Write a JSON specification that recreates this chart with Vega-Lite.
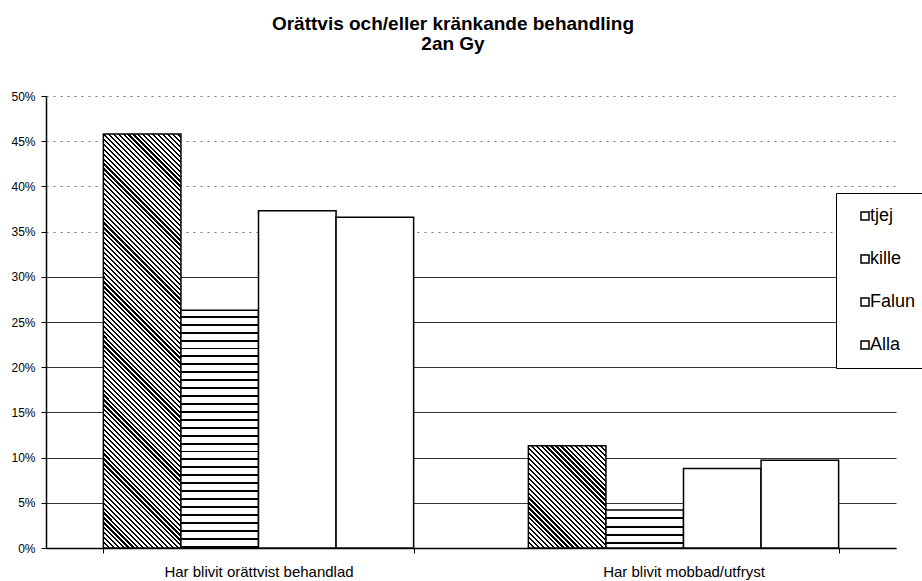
{
"$schema": "https://vega.github.io/schema/vega-lite/v6.json",
"width": 850,
"height": 452,
"autosize": "none",
"padding": {"left": 46, "top": 96, "right": 26, "bottom": 33},
"background": "white",
"title": {"text": ["Orättvis och/eller kränkande behandling", "2an Gy"], "font": "Liberation Sans", "fontSize": 19, "fontWeight": "bold", "color": "black", "lineHeight": 20, "anchor": "middle", "frame": "group", "dx": -18, "offset": 36},
"data": {"values": [
{"grupp": "Har blivit orättvist behandlad", "kon": "tjej", "andel": 0.458},
{"grupp": "Har blivit orättvist behandlad", "kon": "kille", "andel": 0.263},
{"grupp": "Har blivit orättvist behandlad", "kon": "Falun", "andel": 0.373},
{"grupp": "Har blivit orättvist behandlad", "kon": "Alla", "andel": 0.366},
{"grupp": "Har blivit mobbad/utfryst", "kon": "tjej", "andel": 0.113},
{"grupp": "Har blivit mobbad/utfryst", "kon": "kille", "andel": 0.042},
{"grupp": "Har blivit mobbad/utfryst", "kon": "Falun", "andel": 0.088},
{"grupp": "Har blivit mobbad/utfryst", "kon": "Alla", "andel": 0.097}
]},
"mark": {"type": "bar", "stroke": "black", "strokeWidth": 1.5},
"encoding": {
"x": {"field": "grupp", "type": "nominal", "sort": ["Har blivit orättvist behandlad", "Har blivit mobbad/utfryst"], "scale": {"paddingInner": 0.27, "paddingOuter": 0.135},
 "axis": {"title": null, "labelAngle": 0, "labelLimit": 0, "labelFont": "Liberation Sans", "labelFontSize": 15, "labelColor": "black", "labelBaseline": "alphabetic", "labelPadding": 23, "tickBand": "extent", "tickSize": 5, "tickColor": "black", "domainColor": "black", "domainWidth": 1.5, "grid": false}},
"xOffset": {"field": "kon", "type": "nominal", "sort": ["tjej", "kille", "Falun", "Alla"], "scale": {"paddingInner": 0, "paddingOuter": 0}},
"y": {"field": "andel", "type": "quantitative", "scale": {"domain": [0, 0.5], "nice": false},
 "axis": {"title": null, "values": [0, 0.05, 0.1, 0.15, 0.2, 0.25, 0.3, 0.35, 0.4, 0.45, 0.5], "format": ".0%", "labelFont": "Liberation Sans", "labelFontSize": 12, "labelColor": "black", "labelPadding": 6, "tickSize": 5, "tickColor": "black", "domainColor": "black", "domainWidth": 1.5, "grid": true, "gridWidth": 1,
  "gridColor": {"condition": {"test": "datum.value >= 0.33", "value": "#777777"}, "value": "#333333"},
  "gridDash": {"condition": {"test": "datum.value >= 0.33", "value": [2, 5]}, "value": []}}},
"fill": {"field": "kon", "type": "nominal", "scale": {"domain": ["tjej", "kille", "Falun", "Alla"], "range": ["white", "white", "white", "white"]},
 "legend": {"title": null, "orient": "none", "legendX": 790, "legendY": 97, "direction": "vertical", "padding": 14, "strokeColor": "black", "fillColor": "white", "symbolType": "square", "symbolSize": 64, "symbolStrokeWidth": 1.5, "symbolStrokeColor": "black", "symbolFillColor": "white", "labelFont": "Liberation Sans", "labelFontSize": 18, "labelColor": "black", "labelOffset": -4, "symbolOffset": 6, "rowPadding": 25},
 "condition": [
  {"test": "datum.grupp === 'Har blivit orättvist behandlad' && datum.kon === 'tjej'", "value": {"gradient": "linear", "x1": 0, "y1": 1, "x2": 0.215, "y2": -0.1472, "stops": [
{"offset":0,"color":"#000"},{"offset":0.0045,"color":"#000"},{"offset":0.0045,"color":"#fff"},{"offset":0.01,"color":"#fff"},
{"offset":0.01,"color":"#000"},{"offset":0.0145,"color":"#000"},{"offset":0.0145,"color":"#fff"},{"offset":0.02,"color":"#fff"},
{"offset":0.02,"color":"#000"},{"offset":0.0245,"color":"#000"},{"offset":0.0245,"color":"#fff"},{"offset":0.03,"color":"#fff"},
{"offset":0.03,"color":"#000"},{"offset":0.0345,"color":"#000"},{"offset":0.0345,"color":"#fff"},{"offset":0.04,"color":"#fff"},
{"offset":0.04,"color":"#000"},{"offset":0.0445,"color":"#000"},{"offset":0.0445,"color":"#fff"},{"offset":0.05,"color":"#fff"},
{"offset":0.05,"color":"#000"},{"offset":0.0545,"color":"#000"},{"offset":0.0545,"color":"#fff"},{"offset":0.06,"color":"#fff"},
{"offset":0.06,"color":"#000"},{"offset":0.0645,"color":"#000"},{"offset":0.0645,"color":"#fff"},{"offset":0.07,"color":"#fff"},
{"offset":0.07,"color":"#000"},{"offset":0.0745,"color":"#000"},{"offset":0.0745,"color":"#fff"},{"offset":0.08,"color":"#fff"},
{"offset":0.08,"color":"#000"},{"offset":0.0845,"color":"#000"},{"offset":0.0845,"color":"#fff"},{"offset":0.09,"color":"#fff"},
{"offset":0.09,"color":"#000"},{"offset":0.0945,"color":"#000"},{"offset":0.0945,"color":"#fff"},{"offset":0.1,"color":"#fff"},
{"offset":0.1,"color":"#000"},{"offset":0.1045,"color":"#000"},{"offset":0.1045,"color":"#fff"},{"offset":0.11,"color":"#fff"},
{"offset":0.11,"color":"#000"},{"offset":0.1145,"color":"#000"},{"offset":0.1145,"color":"#fff"},{"offset":0.12,"color":"#fff"},
{"offset":0.12,"color":"#000"},{"offset":0.1245,"color":"#000"},{"offset":0.1245,"color":"#fff"},{"offset":0.13,"color":"#fff"},
{"offset":0.13,"color":"#000"},{"offset":0.1345,"color":"#000"},{"offset":0.1345,"color":"#fff"},{"offset":0.14,"color":"#fff"},
{"offset":0.14,"color":"#000"},{"offset":0.1445,"color":"#000"},{"offset":0.1445,"color":"#fff"},{"offset":0.15,"color":"#fff"},
{"offset":0.15,"color":"#000"},{"offset":0.1545,"color":"#000"},{"offset":0.1545,"color":"#fff"},{"offset":0.16,"color":"#fff"},
{"offset":0.16,"color":"#000"},{"offset":0.1645,"color":"#000"},{"offset":0.1645,"color":"#fff"},{"offset":0.17,"color":"#fff"},
{"offset":0.17,"color":"#000"},{"offset":0.1745,"color":"#000"},{"offset":0.1745,"color":"#fff"},{"offset":0.18,"color":"#fff"},
{"offset":0.18,"color":"#000"},{"offset":0.1845,"color":"#000"},{"offset":0.1845,"color":"#fff"},{"offset":0.19,"color":"#fff"},
{"offset":0.19,"color":"#000"},{"offset":0.1945,"color":"#000"},{"offset":0.1945,"color":"#fff"},{"offset":0.2,"color":"#fff"},
{"offset":0.2,"color":"#000"},{"offset":0.2045,"color":"#000"},{"offset":0.2045,"color":"#fff"},{"offset":0.21,"color":"#fff"},
{"offset":0.21,"color":"#000"},{"offset":0.2145,"color":"#000"},{"offset":0.2145,"color":"#fff"},{"offset":0.22,"color":"#fff"},
{"offset":0.22,"color":"#000"},{"offset":0.2245,"color":"#000"},{"offset":0.2245,"color":"#fff"},{"offset":0.23,"color":"#fff"},
{"offset":0.23,"color":"#000"},{"offset":0.2345,"color":"#000"},{"offset":0.2345,"color":"#fff"},{"offset":0.24,"color":"#fff"},
{"offset":0.24,"color":"#000"},{"offset":0.2445,"color":"#000"},{"offset":0.2445,"color":"#fff"},{"offset":0.25,"color":"#fff"},
{"offset":0.25,"color":"#000"},{"offset":0.2545,"color":"#000"},{"offset":0.2545,"color":"#fff"},{"offset":0.26,"color":"#fff"},
{"offset":0.26,"color":"#000"},{"offset":0.2645,"color":"#000"},{"offset":0.2645,"color":"#fff"},{"offset":0.27,"color":"#fff"},
{"offset":0.27,"color":"#000"},{"offset":0.2745,"color":"#000"},{"offset":0.2745,"color":"#fff"},{"offset":0.28,"color":"#fff"},
{"offset":0.28,"color":"#000"},{"offset":0.2845,"color":"#000"},{"offset":0.2845,"color":"#fff"},{"offset":0.29,"color":"#fff"},
{"offset":0.29,"color":"#000"},{"offset":0.2945,"color":"#000"},{"offset":0.2945,"color":"#fff"},{"offset":0.3,"color":"#fff"},
{"offset":0.3,"color":"#000"},{"offset":0.3045,"color":"#000"},{"offset":0.3045,"color":"#fff"},{"offset":0.31,"color":"#fff"},
{"offset":0.31,"color":"#000"},{"offset":0.3145,"color":"#000"},{"offset":0.3145,"color":"#fff"},{"offset":0.32,"color":"#fff"},
{"offset":0.32,"color":"#000"},{"offset":0.3245,"color":"#000"},{"offset":0.3245,"color":"#fff"},{"offset":0.33,"color":"#fff"},
{"offset":0.33,"color":"#000"},{"offset":0.3345,"color":"#000"},{"offset":0.3345,"color":"#fff"},{"offset":0.34,"color":"#fff"},
{"offset":0.34,"color":"#000"},{"offset":0.3445,"color":"#000"},{"offset":0.3445,"color":"#fff"},{"offset":0.35,"color":"#fff"},
{"offset":0.35,"color":"#000"},{"offset":0.3545,"color":"#000"},{"offset":0.3545,"color":"#fff"},{"offset":0.36,"color":"#fff"},
{"offset":0.36,"color":"#000"},{"offset":0.3645,"color":"#000"},{"offset":0.3645,"color":"#fff"},{"offset":0.37,"color":"#fff"},
{"offset":0.37,"color":"#000"},{"offset":0.3745,"color":"#000"},{"offset":0.3745,"color":"#fff"},{"offset":0.38,"color":"#fff"},
{"offset":0.38,"color":"#000"},{"offset":0.3845,"color":"#000"},{"offset":0.3845,"color":"#fff"},{"offset":0.39,"color":"#fff"},
{"offset":0.39,"color":"#000"},{"offset":0.3945,"color":"#000"},{"offset":0.3945,"color":"#fff"},{"offset":0.4,"color":"#fff"},
{"offset":0.4,"color":"#000"},{"offset":0.4045,"color":"#000"},{"offset":0.4045,"color":"#fff"},{"offset":0.41,"color":"#fff"},
{"offset":0.41,"color":"#000"},{"offset":0.4145,"color":"#000"},{"offset":0.4145,"color":"#fff"},{"offset":0.42,"color":"#fff"},
{"offset":0.42,"color":"#000"},{"offset":0.4245,"color":"#000"},{"offset":0.4245,"color":"#fff"},{"offset":0.43,"color":"#fff"},
{"offset":0.43,"color":"#000"},{"offset":0.4345,"color":"#000"},{"offset":0.4345,"color":"#fff"},{"offset":0.44,"color":"#fff"},
{"offset":0.44,"color":"#000"},{"offset":0.4445,"color":"#000"},{"offset":0.4445,"color":"#fff"},{"offset":0.45,"color":"#fff"},
{"offset":0.45,"color":"#000"},{"offset":0.4545,"color":"#000"},{"offset":0.4545,"color":"#fff"},{"offset":0.46,"color":"#fff"},
{"offset":0.46,"color":"#000"},{"offset":0.4645,"color":"#000"},{"offset":0.4645,"color":"#fff"},{"offset":0.47,"color":"#fff"},
{"offset":0.47,"color":"#000"},{"offset":0.4745,"color":"#000"},{"offset":0.4745,"color":"#fff"},{"offset":0.48,"color":"#fff"},
{"offset":0.48,"color":"#000"},{"offset":0.4845,"color":"#000"},{"offset":0.4845,"color":"#fff"},{"offset":0.49,"color":"#fff"},
{"offset":0.49,"color":"#000"},{"offset":0.4945,"color":"#000"},{"offset":0.4945,"color":"#fff"},{"offset":0.5,"color":"#fff"},
{"offset":0.5,"color":"#000"},{"offset":0.5045,"color":"#000"},{"offset":0.5045,"color":"#fff"},{"offset":0.51,"color":"#fff"},
{"offset":0.51,"color":"#000"},{"offset":0.5145,"color":"#000"},{"offset":0.5145,"color":"#fff"},{"offset":0.52,"color":"#fff"},
{"offset":0.52,"color":"#000"},{"offset":0.5245,"color":"#000"},{"offset":0.5245,"color":"#fff"},{"offset":0.53,"color":"#fff"},
{"offset":0.53,"color":"#000"},{"offset":0.5345,"color":"#000"},{"offset":0.5345,"color":"#fff"},{"offset":0.54,"color":"#fff"},
{"offset":0.54,"color":"#000"},{"offset":0.5445,"color":"#000"},{"offset":0.5445,"color":"#fff"},{"offset":0.55,"color":"#fff"},
{"offset":0.55,"color":"#000"},{"offset":0.5545,"color":"#000"},{"offset":0.5545,"color":"#fff"},{"offset":0.56,"color":"#fff"},
{"offset":0.56,"color":"#000"},{"offset":0.5645,"color":"#000"},{"offset":0.5645,"color":"#fff"},{"offset":0.57,"color":"#fff"},
{"offset":0.57,"color":"#000"},{"offset":0.5745,"color":"#000"},{"offset":0.5745,"color":"#fff"},{"offset":0.58,"color":"#fff"},
{"offset":0.58,"color":"#000"},{"offset":0.5845,"color":"#000"},{"offset":0.5845,"color":"#fff"},{"offset":0.59,"color":"#fff"},
{"offset":0.59,"color":"#000"},{"offset":0.5945,"color":"#000"},{"offset":0.5945,"color":"#fff"},{"offset":0.6,"color":"#fff"},
{"offset":0.6,"color":"#000"},{"offset":0.6045,"color":"#000"},{"offset":0.6045,"color":"#fff"},{"offset":0.61,"color":"#fff"},
{"offset":0.61,"color":"#000"},{"offset":0.6145,"color":"#000"},{"offset":0.6145,"color":"#fff"},{"offset":0.62,"color":"#fff"},
{"offset":0.62,"color":"#000"},{"offset":0.6245,"color":"#000"},{"offset":0.6245,"color":"#fff"},{"offset":0.63,"color":"#fff"},
{"offset":0.63,"color":"#000"},{"offset":0.6345,"color":"#000"},{"offset":0.6345,"color":"#fff"},{"offset":0.64,"color":"#fff"},
{"offset":0.64,"color":"#000"},{"offset":0.6445,"color":"#000"},{"offset":0.6445,"color":"#fff"},{"offset":0.65,"color":"#fff"},
{"offset":0.65,"color":"#000"},{"offset":0.6545,"color":"#000"},{"offset":0.6545,"color":"#fff"},{"offset":0.66,"color":"#fff"},
{"offset":0.66,"color":"#000"},{"offset":0.6645,"color":"#000"},{"offset":0.6645,"color":"#fff"},{"offset":0.67,"color":"#fff"},
{"offset":0.67,"color":"#000"},{"offset":0.6745,"color":"#000"},{"offset":0.6745,"color":"#fff"},{"offset":0.68,"color":"#fff"},
{"offset":0.68,"color":"#000"},{"offset":0.6845,"color":"#000"},{"offset":0.6845,"color":"#fff"},{"offset":0.69,"color":"#fff"},
{"offset":0.69,"color":"#000"},{"offset":0.6945,"color":"#000"},{"offset":0.6945,"color":"#fff"},{"offset":0.7,"color":"#fff"},
{"offset":0.7,"color":"#000"},{"offset":0.7045,"color":"#000"},{"offset":0.7045,"color":"#fff"},{"offset":0.71,"color":"#fff"},
{"offset":0.71,"color":"#000"},{"offset":0.7145,"color":"#000"},{"offset":0.7145,"color":"#fff"},{"offset":0.72,"color":"#fff"},
{"offset":0.72,"color":"#000"},{"offset":0.7245,"color":"#000"},{"offset":0.7245,"color":"#fff"},{"offset":0.73,"color":"#fff"},
{"offset":0.73,"color":"#000"},{"offset":0.7345,"color":"#000"},{"offset":0.7345,"color":"#fff"},{"offset":0.74,"color":"#fff"},
{"offset":0.74,"color":"#000"},{"offset":0.7445,"color":"#000"},{"offset":0.7445,"color":"#fff"},{"offset":0.75,"color":"#fff"},
{"offset":0.75,"color":"#000"},{"offset":0.7545,"color":"#000"},{"offset":0.7545,"color":"#fff"},{"offset":0.76,"color":"#fff"},
{"offset":0.76,"color":"#000"},{"offset":0.7645,"color":"#000"},{"offset":0.7645,"color":"#fff"},{"offset":0.77,"color":"#fff"},
{"offset":0.77,"color":"#000"},{"offset":0.7745,"color":"#000"},{"offset":0.7745,"color":"#fff"},{"offset":0.78,"color":"#fff"},
{"offset":0.78,"color":"#000"},{"offset":0.7845,"color":"#000"},{"offset":0.7845,"color":"#fff"},{"offset":0.79,"color":"#fff"},
{"offset":0.79,"color":"#000"},{"offset":0.7945,"color":"#000"},{"offset":0.7945,"color":"#fff"},{"offset":0.8,"color":"#fff"},
{"offset":0.8,"color":"#000"},{"offset":0.8045,"color":"#000"},{"offset":0.8045,"color":"#fff"},{"offset":0.81,"color":"#fff"},
{"offset":0.81,"color":"#000"},{"offset":0.8145,"color":"#000"},{"offset":0.8145,"color":"#fff"},{"offset":0.82,"color":"#fff"},
{"offset":0.82,"color":"#000"},{"offset":0.8245,"color":"#000"},{"offset":0.8245,"color":"#fff"},{"offset":0.83,"color":"#fff"},
{"offset":0.83,"color":"#000"},{"offset":0.8345,"color":"#000"},{"offset":0.8345,"color":"#fff"},{"offset":0.84,"color":"#fff"},
{"offset":0.84,"color":"#000"},{"offset":0.8445,"color":"#000"},{"offset":0.8445,"color":"#fff"},{"offset":0.85,"color":"#fff"},
{"offset":0.85,"color":"#000"},{"offset":0.8545,"color":"#000"},{"offset":0.8545,"color":"#fff"},{"offset":0.86,"color":"#fff"},
{"offset":0.86,"color":"#000"},{"offset":0.8645,"color":"#000"},{"offset":0.8645,"color":"#fff"},{"offset":0.87,"color":"#fff"},
{"offset":0.87,"color":"#000"},{"offset":0.8745,"color":"#000"},{"offset":0.8745,"color":"#fff"},{"offset":0.88,"color":"#fff"},
{"offset":0.88,"color":"#000"},{"offset":0.8845,"color":"#000"},{"offset":0.8845,"color":"#fff"},{"offset":0.89,"color":"#fff"},
{"offset":0.89,"color":"#000"},{"offset":0.8945,"color":"#000"},{"offset":0.8945,"color":"#fff"},{"offset":0.9,"color":"#fff"},
{"offset":0.9,"color":"#000"},{"offset":0.9045,"color":"#000"},{"offset":0.9045,"color":"#fff"},{"offset":0.91,"color":"#fff"},
{"offset":0.91,"color":"#000"},{"offset":0.9145,"color":"#000"},{"offset":0.9145,"color":"#fff"},{"offset":0.92,"color":"#fff"},
{"offset":0.92,"color":"#000"},{"offset":0.9245,"color":"#000"},{"offset":0.9245,"color":"#fff"},{"offset":0.93,"color":"#fff"},
{"offset":0.93,"color":"#000"},{"offset":0.9345,"color":"#000"},{"offset":0.9345,"color":"#fff"},{"offset":0.94,"color":"#fff"},
{"offset":0.94,"color":"#000"},{"offset":0.9445,"color":"#000"},{"offset":0.9445,"color":"#fff"},{"offset":0.95,"color":"#fff"},
{"offset":0.95,"color":"#000"},{"offset":0.9545,"color":"#000"},{"offset":0.9545,"color":"#fff"},{"offset":0.96,"color":"#fff"},
{"offset":0.96,"color":"#000"},{"offset":0.9645,"color":"#000"},{"offset":0.9645,"color":"#fff"},{"offset":0.97,"color":"#fff"},
{"offset":0.97,"color":"#000"},{"offset":0.9745,"color":"#000"},{"offset":0.9745,"color":"#fff"},{"offset":0.98,"color":"#fff"},
{"offset":0.98,"color":"#000"},{"offset":0.9845,"color":"#000"},{"offset":0.9845,"color":"#fff"},{"offset":0.99,"color":"#fff"},
{"offset":0.99,"color":"#000"},{"offset":0.9945,"color":"#000"},{"offset":0.9945,"color":"#fff"},{"offset":1,"color":"#fff"}
  ]}},
  {"test": "datum.grupp === 'Har blivit mobbad/utfryst' && datum.kon === 'tjej'", "value": {"gradient": "linear", "x1": 0, "y1": 1, "x2": 0.8473, "y2": -0.1159, "stops": [
{"offset":0,"color":"#000"},{"offset":0.0124,"color":"#000"},{"offset":0.0124,"color":"#fff"},{"offset":0.0275,"color":"#fff"},
{"offset":0.0275,"color":"#000"},{"offset":0.0399,"color":"#000"},{"offset":0.0399,"color":"#fff"},{"offset":0.055,"color":"#fff"},
{"offset":0.055,"color":"#000"},{"offset":0.0674,"color":"#000"},{"offset":0.0674,"color":"#fff"},{"offset":0.0825,"color":"#fff"},
{"offset":0.0825,"color":"#000"},{"offset":0.0949,"color":"#000"},{"offset":0.0949,"color":"#fff"},{"offset":0.11,"color":"#fff"},
{"offset":0.11,"color":"#000"},{"offset":0.1224,"color":"#000"},{"offset":0.1224,"color":"#fff"},{"offset":0.1375,"color":"#fff"},
{"offset":0.1375,"color":"#000"},{"offset":0.1499,"color":"#000"},{"offset":0.1499,"color":"#fff"},{"offset":0.165,"color":"#fff"},
{"offset":0.165,"color":"#000"},{"offset":0.1774,"color":"#000"},{"offset":0.1774,"color":"#fff"},{"offset":0.1925,"color":"#fff"},
{"offset":0.1925,"color":"#000"},{"offset":0.2049,"color":"#000"},{"offset":0.2049,"color":"#fff"},{"offset":0.22,"color":"#fff"},
{"offset":0.22,"color":"#000"},{"offset":0.2324,"color":"#000"},{"offset":0.2324,"color":"#fff"},{"offset":0.2475,"color":"#fff"},
{"offset":0.2475,"color":"#000"},{"offset":0.2599,"color":"#000"},{"offset":0.2599,"color":"#fff"},{"offset":0.275,"color":"#fff"},
{"offset":0.275,"color":"#000"},{"offset":0.2874,"color":"#000"},{"offset":0.2874,"color":"#fff"},{"offset":0.3025,"color":"#fff"},
{"offset":0.3025,"color":"#000"},{"offset":0.3149,"color":"#000"},{"offset":0.3149,"color":"#fff"},{"offset":0.33,"color":"#fff"},
{"offset":0.33,"color":"#000"},{"offset":0.3424,"color":"#000"},{"offset":0.3424,"color":"#fff"},{"offset":0.3575,"color":"#fff"},
{"offset":0.3575,"color":"#000"},{"offset":0.3699,"color":"#000"},{"offset":0.3699,"color":"#fff"},{"offset":0.385,"color":"#fff"},
{"offset":0.385,"color":"#000"},{"offset":0.3974,"color":"#000"},{"offset":0.3974,"color":"#fff"},{"offset":0.4125,"color":"#fff"},
{"offset":0.4125,"color":"#000"},{"offset":0.4249,"color":"#000"},{"offset":0.4249,"color":"#fff"},{"offset":0.44,"color":"#fff"},
{"offset":0.44,"color":"#000"},{"offset":0.4524,"color":"#000"},{"offset":0.4524,"color":"#fff"},{"offset":0.4675,"color":"#fff"},
{"offset":0.4675,"color":"#000"},{"offset":0.4799,"color":"#000"},{"offset":0.4799,"color":"#fff"},{"offset":0.495,"color":"#fff"},
{"offset":0.495,"color":"#000"},{"offset":0.5074,"color":"#000"},{"offset":0.5074,"color":"#fff"},{"offset":0.5225,"color":"#fff"},
{"offset":0.5225,"color":"#000"},{"offset":0.5349,"color":"#000"},{"offset":0.5349,"color":"#fff"},{"offset":0.55,"color":"#fff"},
{"offset":0.55,"color":"#000"},{"offset":0.5624,"color":"#000"},{"offset":0.5624,"color":"#fff"},{"offset":0.5775,"color":"#fff"},
{"offset":0.5775,"color":"#000"},{"offset":0.5899,"color":"#000"},{"offset":0.5899,"color":"#fff"},{"offset":0.605,"color":"#fff"},
{"offset":0.605,"color":"#000"},{"offset":0.6174,"color":"#000"},{"offset":0.6174,"color":"#fff"},{"offset":0.6325,"color":"#fff"},
{"offset":0.6325,"color":"#000"},{"offset":0.6449,"color":"#000"},{"offset":0.6449,"color":"#fff"},{"offset":0.66,"color":"#fff"},
{"offset":0.66,"color":"#000"},{"offset":0.6724,"color":"#000"},{"offset":0.6724,"color":"#fff"},{"offset":0.6875,"color":"#fff"},
{"offset":0.6875,"color":"#000"},{"offset":0.6999,"color":"#000"},{"offset":0.6999,"color":"#fff"},{"offset":0.715,"color":"#fff"},
{"offset":0.715,"color":"#000"},{"offset":0.7274,"color":"#000"},{"offset":0.7274,"color":"#fff"},{"offset":0.7425,"color":"#fff"},
{"offset":0.7425,"color":"#000"},{"offset":0.7549,"color":"#000"},{"offset":0.7549,"color":"#fff"},{"offset":0.77,"color":"#fff"},
{"offset":0.77,"color":"#000"},{"offset":0.7824,"color":"#000"},{"offset":0.7824,"color":"#fff"},{"offset":0.7975,"color":"#fff"},
{"offset":0.7975,"color":"#000"},{"offset":0.8099,"color":"#000"},{"offset":0.8099,"color":"#fff"},{"offset":0.825,"color":"#fff"},
{"offset":0.825,"color":"#000"},{"offset":0.8374,"color":"#000"},{"offset":0.8374,"color":"#fff"},{"offset":0.8525,"color":"#fff"},
{"offset":0.8525,"color":"#000"},{"offset":0.8649,"color":"#000"},{"offset":0.8649,"color":"#fff"},{"offset":0.88,"color":"#fff"},
{"offset":0.88,"color":"#000"},{"offset":0.8924,"color":"#000"},{"offset":0.8924,"color":"#fff"},{"offset":0.9075,"color":"#fff"},
{"offset":0.9075,"color":"#000"},{"offset":0.9199,"color":"#000"},{"offset":0.9199,"color":"#fff"},{"offset":0.935,"color":"#fff"},
{"offset":0.935,"color":"#000"},{"offset":0.9474,"color":"#000"},{"offset":0.9474,"color":"#fff"},{"offset":0.9625,"color":"#fff"},
{"offset":0.9625,"color":"#000"},{"offset":0.9749,"color":"#000"},{"offset":0.9749,"color":"#fff"},{"offset":0.99,"color":"#fff"},
{"offset":0.99,"color":"#000"},{"offset":1,"color":"#000"}
  ]}},
  {"test": "datum.grupp === 'Har blivit orättvist behandlad' && datum.kon === 'kille'", "value": {"gradient": "linear", "x1": 0, "y1": 0, "x2": 0, "y2": 1, "stops": [
{"offset":0,"color":"#fff"},
{"offset":0.0233,"color":"#fff"},{"offset":0.0233,"color":"#000"},{"offset":0.0317,"color":"#000"},{"offset":0.0317,"color":"#fff"},
{"offset":0.0567,"color":"#fff"},{"offset":0.0567,"color":"#000"},{"offset":0.065,"color":"#000"},{"offset":0.065,"color":"#fff"},
{"offset":0.09,"color":"#fff"},{"offset":0.09,"color":"#000"},{"offset":0.0983,"color":"#000"},{"offset":0.0983,"color":"#fff"},
{"offset":0.1233,"color":"#fff"},{"offset":0.1233,"color":"#000"},{"offset":0.1317,"color":"#000"},{"offset":0.1317,"color":"#fff"},
{"offset":0.1567,"color":"#fff"},{"offset":0.1567,"color":"#000"},{"offset":0.165,"color":"#000"},{"offset":0.165,"color":"#fff"},
{"offset":0.19,"color":"#fff"},{"offset":0.19,"color":"#000"},{"offset":0.1983,"color":"#000"},{"offset":0.1983,"color":"#fff"},
{"offset":0.2233,"color":"#fff"},{"offset":0.2233,"color":"#000"},{"offset":0.2317,"color":"#000"},{"offset":0.2317,"color":"#fff"},
{"offset":0.2567,"color":"#fff"},{"offset":0.2567,"color":"#000"},{"offset":0.265,"color":"#000"},{"offset":0.265,"color":"#fff"},
{"offset":0.29,"color":"#fff"},{"offset":0.29,"color":"#000"},{"offset":0.2983,"color":"#000"},{"offset":0.2983,"color":"#fff"},
{"offset":0.3233,"color":"#fff"},{"offset":0.3233,"color":"#000"},{"offset":0.3317,"color":"#000"},{"offset":0.3317,"color":"#fff"},
{"offset":0.3567,"color":"#fff"},{"offset":0.3567,"color":"#000"},{"offset":0.365,"color":"#000"},{"offset":0.365,"color":"#fff"},
{"offset":0.39,"color":"#fff"},{"offset":0.39,"color":"#000"},{"offset":0.3983,"color":"#000"},{"offset":0.3983,"color":"#fff"},
{"offset":0.4233,"color":"#fff"},{"offset":0.4233,"color":"#000"},{"offset":0.4317,"color":"#000"},{"offset":0.4317,"color":"#fff"},
{"offset":0.4567,"color":"#fff"},{"offset":0.4567,"color":"#000"},{"offset":0.465,"color":"#000"},{"offset":0.465,"color":"#fff"},
{"offset":0.49,"color":"#fff"},{"offset":0.49,"color":"#000"},{"offset":0.4983,"color":"#000"},{"offset":0.4983,"color":"#fff"},
{"offset":0.5233,"color":"#fff"},{"offset":0.5233,"color":"#000"},{"offset":0.5317,"color":"#000"},{"offset":0.5317,"color":"#fff"},
{"offset":0.5567,"color":"#fff"},{"offset":0.5567,"color":"#000"},{"offset":0.565,"color":"#000"},{"offset":0.565,"color":"#fff"},
{"offset":0.59,"color":"#fff"},{"offset":0.59,"color":"#000"},{"offset":0.5983,"color":"#000"},{"offset":0.5983,"color":"#fff"},
{"offset":0.6233,"color":"#fff"},{"offset":0.6233,"color":"#000"},{"offset":0.6317,"color":"#000"},{"offset":0.6317,"color":"#fff"},
{"offset":0.6567,"color":"#fff"},{"offset":0.6567,"color":"#000"},{"offset":0.665,"color":"#000"},{"offset":0.665,"color":"#fff"},
{"offset":0.69,"color":"#fff"},{"offset":0.69,"color":"#000"},{"offset":0.6983,"color":"#000"},{"offset":0.6983,"color":"#fff"},
{"offset":0.7233,"color":"#fff"},{"offset":0.7233,"color":"#000"},{"offset":0.7317,"color":"#000"},{"offset":0.7317,"color":"#fff"},
{"offset":0.7567,"color":"#fff"},{"offset":0.7567,"color":"#000"},{"offset":0.765,"color":"#000"},{"offset":0.765,"color":"#fff"},
{"offset":0.79,"color":"#fff"},{"offset":0.79,"color":"#000"},{"offset":0.7983,"color":"#000"},{"offset":0.7983,"color":"#fff"},
{"offset":0.8233,"color":"#fff"},{"offset":0.8233,"color":"#000"},{"offset":0.8317,"color":"#000"},{"offset":0.8317,"color":"#fff"},
{"offset":0.8567,"color":"#fff"},{"offset":0.8567,"color":"#000"},{"offset":0.865,"color":"#000"},{"offset":0.865,"color":"#fff"},
{"offset":0.89,"color":"#fff"},{"offset":0.89,"color":"#000"},{"offset":0.8983,"color":"#000"},{"offset":0.8983,"color":"#fff"},
{"offset":0.9233,"color":"#fff"},{"offset":0.9233,"color":"#000"},{"offset":0.9317,"color":"#000"},{"offset":0.9317,"color":"#fff"},
{"offset":0.9567,"color":"#fff"},{"offset":0.9567,"color":"#000"},{"offset":0.965,"color":"#000"},{"offset":0.965,"color":"#fff"},
{"offset":0.99,"color":"#fff"},{"offset":0.99,"color":"#000"},{"offset":0.9983,"color":"#000"},{"offset":0.9983,"color":"#fff"},
{"offset":1,"color":"#fff"}
  ]}},
  {"test": "datum.grupp === 'Har blivit mobbad/utfryst' && datum.kon === 'kille'", "value": {"gradient": "linear", "x1": 0, "y1": 0, "x2": 0, "y2": 1, "stops": [
{"offset":0,"color":"#fff"},
{"offset":0.195,"color":"#fff"},{"offset":0.195,"color":"#000"},{"offset":0.245,"color":"#000"},{"offset":0.245,"color":"#fff"},
{"offset":0.415,"color":"#fff"},{"offset":0.415,"color":"#000"},{"offset":0.465,"color":"#000"},{"offset":0.465,"color":"#fff"},
{"offset":0.635,"color":"#fff"},{"offset":0.635,"color":"#000"},{"offset":0.685,"color":"#000"},{"offset":0.685,"color":"#fff"},
{"offset":0.855,"color":"#fff"},{"offset":0.855,"color":"#000"},{"offset":0.905,"color":"#000"},{"offset":0.905,"color":"#fff"},
{"offset":1,"color":"#fff"}
  ]}}
 ]
}
},
"config": {"view": {"stroke": null}}
}
